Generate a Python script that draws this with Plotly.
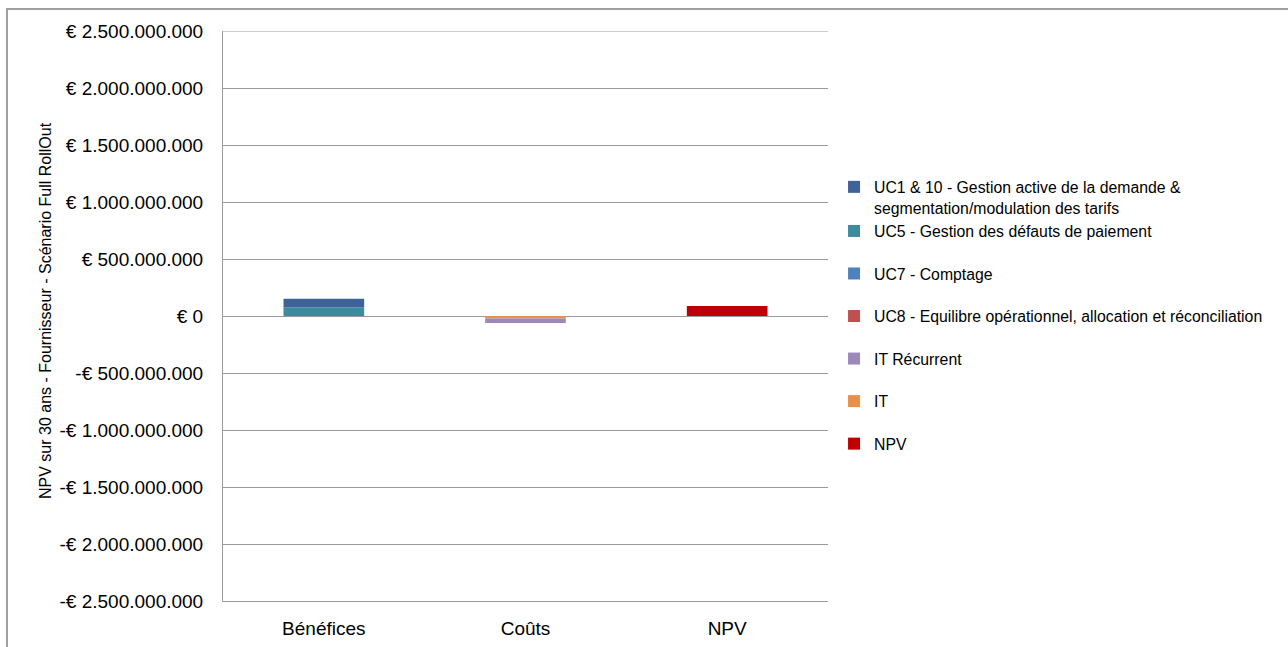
import plotly.graph_objects as go

categories = ["Bénéfices", "Coûts", "NPV"]

# series (data order = stacking order); legend order given by legend_ranks
series_names = [
    "NPV",
    "IT",
    "IT Récurrent",
    "UC8 - Equilibre opérationnel, allocation et réconciliation",
    "UC7 - Comptage",
    "UC5 - Gestion des défauts de paiement",
    "UC1 & 10 - Gestion active de la demande &<br>segmentation/modulation des tarifs",
]
npv_vals = [0, 0, 88e6]
it_vals = [0, -22e6, 0]
it_rec_vals = [0, -40e6, 0]
uc8_vals = [0, 0, 0]
uc7_vals = [0, 0, 0]
uc5_vals = [74e6, 0, 0]
uc1_vals = [78e6, 0, 0]
series_values = [npv_vals, it_vals, it_rec_vals, uc8_vals, uc7_vals, uc5_vals, uc1_vals]
series_colors = ["#C00000", "#E8904A", "#9C89B8", "#C0504D", "#4F81BD", "#3B8C9C", "#3D6399"]
series_groups = ["g7", "g6", "g5", "g4", "g3", "g1", "g1"]
legend_ranks = [7, 6, 5, 4, 3, 2, 1]

y_min, y_max = -2.5e9, 2.5e9
tick_vals = [2.5e9, 2e9, 1.5e9, 1e9, 5e8, 0, -5e8, -1e9, -1.5e9, -2e9, -2.5e9]
tick_text = ["€ 2.500.000.000", "€ 2.000.000.000", "€ 1.500.000.000", "€ 1.000.000.000",
             "€ 500.000.000", "€ 0", "-€ 500.000.000", "-€ 1.000.000.000",
             "-€ 1.500.000.000", "-€ 2.000.000.000", "-€ 2.500.000.000"]

y_title = "NPV sur 30 ans - Fournisseur - Scénario Full RollOut"

FONT = "Liberation Sans"
GRID = "#9A9A9A"

fig = go.Figure()
for name, vals, col, grp, rk in zip(series_names, series_values, series_colors,
                                     series_groups, legend_ranks):
    fig.add_trace(go.Bar(
        x=categories, y=vals, name=name, legendgroup=grp, legendrank=rk,
        marker=dict(color=col, line=dict(width=0)),
    ))

fig.update_layout(
    width=1288, height=647,
    barmode="relative",
    bargap=0.6,
    paper_bgcolor="white",
    plot_bgcolor="white",
    margin=dict(l=223, r=460, t=31, b=46),
    font=dict(family=FONT, color="#000000"),
    showlegend=True,
    legend=dict(
        x=1.010, y=0.756, xanchor="left", yanchor="top",
        traceorder="grouped",
        tracegroupgap=19,
        valign="top",
        font=dict(family=FONT, size=15.8, color="#000000"),
        bgcolor="rgba(0,0,0,0)",
    ),
    xaxis=dict(
        showgrid=False,
        showline=True,
        linecolor=GRID,
        linewidth=1,
        ticks="",
        automargin=False,
        tickfont=dict(family=FONT, size=19, color="#000000"),
        ticklabelstandoff=10,
    ),
    yaxis=dict(
        range=[y_min, y_max],
        tickvals=tick_vals,
        ticktext=tick_text,
        showgrid=True,
        gridcolor=GRID,
        gridwidth=1,
        zeroline=True,
        zerolinecolor=GRID,
        zerolinewidth=1,
        showline=True,
        linecolor=GRID,
        linewidth=1,
        ticks="",
        automargin=False,
        tickfont=dict(family=FONT, size=19, color="#000000"),
        ticklabelstandoff=15,
    ),
    annotations=[dict(
        text=y_title, textangle=-90, xref="paper", yref="paper",
        x=(45 - 223) / 605, y=(601 - 311) / 570, xanchor="center", yanchor="middle",
        showarrow=False, font=dict(family=FONT, size=16, color="#000000"),
    )],
    shapes=[
        dict(
            type="rect", xref="paper", yref="paper", layer="below",
            x0=(7 - 223) / 605, x1=(1310 - 223) / 605,
            y0=(601 - 670) / 570, y1=(601 - 9) / 570,
            line=dict(color="#A0A0A0", width=2), fillcolor="rgba(0,0,0,0)",
        ),
        # top gridline at the range end (plotly skips gridlines at the edges)
        dict(
            type="line", xref="paper", yref="y", layer="below",
            x0=0, x1=1, y0=y_max, y1=y_max,
            line=dict(color=GRID, width=1),
        ),
    ],
)

fig.write_html("out.html")
